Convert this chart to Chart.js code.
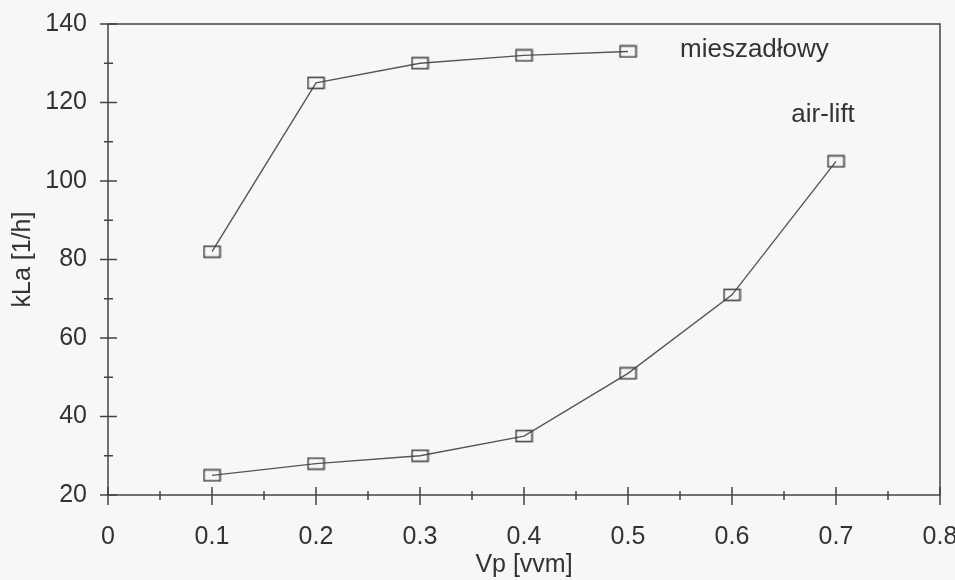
<!DOCTYPE html>
<html>
<head>
<meta charset="utf-8">
<script src="https://cdn.jsdelivr.net/npm/chart.js@4"></script>
<style>
  html, body { margin: 0; padding: 0; background: #f7f7f5; }
  #wrap { width: 955px; height: 580px; position: relative; }
</style>
</head>
<body>
<div id="wrap"><canvas id="kla"></canvas></div>
<script>
// dane
const vpMieszadlowy = [0.1, 0.2, 0.3, 0.4, 0.5];
const klaMieszadlowy = [82, 125, 130, 132, 133];
const vpAirLift = [0.1, 0.2, 0.3, 0.4, 0.5, 0.6, 0.7];
const klaAirLift = [25, 28, 30, 35, 51, 71, 105];
const xTicks = [0, 0.1, 0.2, 0.3, 0.4, 0.5, 0.6, 0.7, 0.8];
const yTicks = [20, 40, 60, 80, 100, 120, 140];
const seriesNames = ['mieszadłowy', 'air-lift'];

const ink = '#333';
const font = { family: "'Liberation Sans', Arial, sans-serif", size: 25 };

// prostokątny znacznik punktu
function makeMarker() {
    const c = document.createElement('canvas');
    c.width = 19; c.height = 14;
    const g = c.getContext('2d');
    g.strokeStyle = '#444';
    g.lineWidth = 1.6;
    g.strokeRect(1.5, 1.5, 16, 11);
    return c;
}
const marker = makeMarker();

function toPoints(xs, ys) {
    return xs.map((x, i) => ({ x: x, y: ys[i] }));
}

// ramka, znaczniki osi (przecinające oś) i podpisy serii
const framePlugin = {
    id: 'frame',
    afterDraw(chart) {
        const { ctx, chartArea: a, scales } = chart;
        const xs = scales.x, ys = scales.y;
        ctx.save();
        ctx.strokeStyle = '#444';
        ctx.lineWidth = 1.5;
        ctx.strokeRect(a.left, a.top, a.right - a.left, a.bottom - a.top);
        ctx.beginPath();
        for (let i = 0; i < xTicks.length; i++) {
            const px = xs.getPixelForValue(xTicks[i]);
            ctx.moveTo(px, a.bottom - 8); ctx.lineTo(px, a.bottom + 10);
            if (i < xTicks.length - 1) {
                const mx = xs.getPixelForValue((xTicks[i] + xTicks[i + 1]) / 2);
                ctx.moveTo(mx, a.bottom - 4); ctx.lineTo(mx, a.bottom + 5);
            }
        }
        for (let i = 0; i < yTicks.length; i++) {
            const py = ys.getPixelForValue(yTicks[i]);
            ctx.moveTo(a.left - 8, py); ctx.lineTo(a.left + 9, py);
            if (i < yTicks.length - 1) {
                const my = ys.getPixelForValue((yTicks[i] + yTicks[i + 1]) / 2);
                ctx.moveTo(a.left - 4, my); ctx.lineTo(a.left + 5, my);
            }
        }
        ctx.stroke();
        ctx.fillStyle = ink;
        ctx.font = '26px ' + font.family;
        ctx.textBaseline = 'middle';
        ctx.textAlign = 'left';
        ctx.fillText(seriesNames[0], xs.getPixelForValue(0.55), ys.getPixelForValue(133.4));
        ctx.fillText(seriesNames[1], xs.getPixelForValue(0.657), ys.getPixelForValue(116.8));
        ctx.restore();
    }
};

const commonSeries = {
    borderColor: '#555',
    borderWidth: 1.4,
    pointStyle: marker,
    pointRadius: 8,
    tension: 0,
    fill: false
};

new Chart(document.getElementById('kla'), {
    type: 'line',
    data: {
        datasets: [
            Object.assign({ label: seriesNames[0], data: toPoints(vpMieszadlowy, klaMieszadlowy) }, commonSeries),
            Object.assign({ label: seriesNames[1], data: toPoints(vpAirLift, klaAirLift) }, commonSeries)
        ]
    },
    options: {
        responsive: true,
        maintainAspectRatio: false,
        animation: false,
        layout: { padding: { left: 0, top: 24, right: 15, bottom: 0 } },
        plugins: { legend: { display: false }, tooltip: { enabled: false } },
        scales: {
            x: {
                type: 'linear',
                min: 0, max: 0.8,
                afterBuildTicks: s => { s.ticks = xTicks.map(v => ({ value: v })); },
                afterFit: s => { s.height = 85; s.paddingLeft = 0; s.paddingRight = 0; },
                grid: { display: false, drawTicks: false },
                border: { display: false },
                ticks: {
                    color: ink, font: font, padding: 27, maxRotation: 0,
                    callback: v => v === 0 ? '0' : (Math.round(v * 10) / 10).toString()
                },
                title: { display: true, text: 'Vp [vvm]', color: ink, font: font, padding: { top: 0, bottom: 0 } }
            },
            y: {
                type: 'linear',
                min: 20, max: 140,
                afterBuildTicks: s => { s.ticks = yTicks.map(v => ({ value: v })); },
                afterFit: s => { s.width = 108; s.paddingTop = 0; s.paddingBottom = 0; },
                grid: { display: false, drawTicks: false },
                border: { display: false },
                ticks: { color: ink, font: font, padding: 21 },
                title: { display: true, text: 'kLa [1/h]', color: ink, font: font, padding: { top: 8, bottom: 0 } }
            }
        }
    },
    plugins: [framePlugin]
});
</script>
</body>
</html>
